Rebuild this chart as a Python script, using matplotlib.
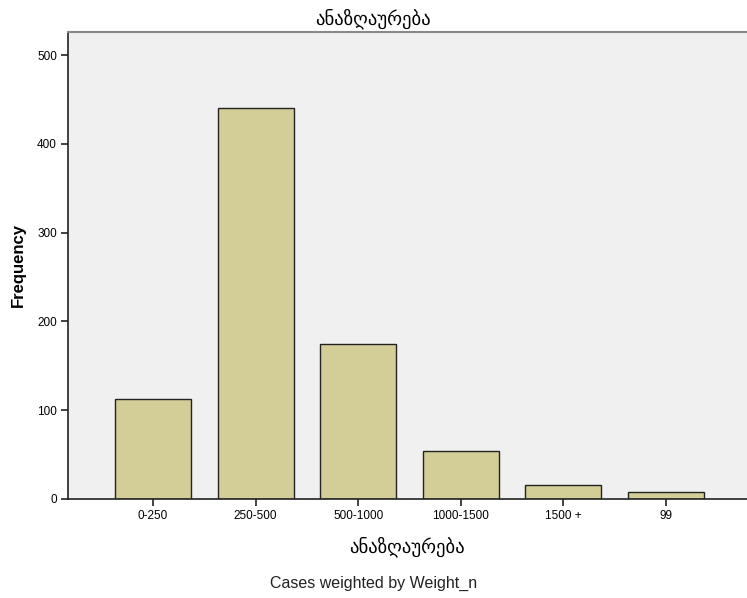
import matplotlib
matplotlib.use("Agg")
import matplotlib.pyplot as plt

plt.rcParams['font.family'] = ['Liberation Sans', 'DejaVu Sans']

categories = ['0-250', '250-500', '500-1000', '1000-1500', '1500 +', '99']
freq = [113, 440, 175, 54, 16, 8]
yticks = [0, 100, 200, 300, 400, 500]

fig = plt.figure(figsize=(7.47, 5.98), dpi=100)
ax = fig.add_axes([0.091, 0.1656, 0.909, 0.781])
ax.set_facecolor('#f0f0f0')

x = range(len(categories))
ax.bar(x, freq, width=0.74, color='#d3ce97', edgecolor='#222222', linewidth=1.0, zorder=2)

ax.set_xlim(-0.83, 5.79)
ax.set_ylim(0, 526)
ax.set_xticks(list(x))
ax.set_xticklabels(categories, fontsize=8.5)
ax.set_yticks(yticks)
ax.set_yticklabels([str(v) for v in yticks], fontsize=8.5)
ax.tick_params(axis='both', direction='out', length=5, width=1.2, color='#222222', pad=3)

for s in ['left', 'bottom']:
    ax.spines[s].set_color('#222222')
    ax.spines[s].set_linewidth(1.2)
ax.spines['right'].set_visible(False)
ax.spines['top'].set_color('#888888')
ax.spines['top'].set_linewidth(1.5)

ax.set_ylabel('Frequency', fontsize=12, fontweight='bold', labelpad=8)
ax.set_xlabel('ანაზღაურება', fontsize=13.5, labelpad=10)
fig.text(0.5, 0.969, 'ანაზღაურება', ha='center', va='center', fontsize=13.5)
fig.text(0.5, 0.025, 'Cases weighted by Weight_n', ha='center', va='center', fontsize=11.5, color='#222222')

fig.savefig('out.png', dpi=100)
